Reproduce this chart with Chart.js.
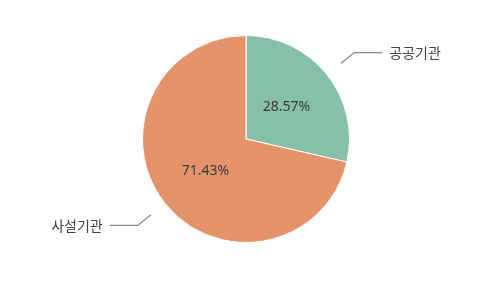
<!DOCTYPE html>
<html><head><meta charset="utf-8">
<script src="https://cdn.jsdelivr.net/npm/chart.js@4/dist/chart.umd.min.js"></script>
<style>html,body{margin:0;padding:0;background:#fff}#wrap{width:500px;height:291px}</style>
</head><body><div id="wrap"><canvas id="c"></canvas></div>
<script>
const categories = ['공공기관', '사설기관'];
const values = [28.57, 71.43];
const colors = ['#86c0a6', '#e5936b'];

const labelPlugin = {
  id: 'labelPlugin',
  afterDatasetsDraw(chart) {
    const ctx = chart.ctx;
    const meta = chart.getDatasetMeta(0);
    const total = values.reduce((a, b) => a + b, 0);
    meta.data.forEach((arc, i) => {
      const mid = (arc.startAngle + arc.endAngle) / 2;
      const cx = arc.x, cy = arc.y, r = arc.outerRadius;
      const cos = Math.cos(mid), sin = Math.sin(mid);
      ctx.save();
      ctx.fillStyle = '#3a3a3a';
      ctx.font = '14px "Noto Sans", "Noto Sans CJK KR", sans-serif';
      ctx.textAlign = 'center';
      ctx.textBaseline = 'middle';
      const pct = (values[i] / total * 100).toFixed(2) + '%';
      ctx.fillText(pct, cx + cos * r * 0.5, cy + sin * r * 0.5);
      const p1x = cx + cos * (r + 18), p1y = cy + sin * (r + 18);
      const p2x = cx + cos * (r + 35), p2y = cy + sin * (r + 35);
      const dir = cos >= 0 ? 1 : -1;
      const p3x = p2x + dir * 28;
      ctx.strokeStyle = '#888';
      ctx.lineWidth = 1.2;
      ctx.beginPath();
      ctx.moveTo(p1x, p1y);
      ctx.lineTo(p2x, p2y);
      ctx.lineTo(p3x, p2y);
      ctx.stroke();
      ctx.fillStyle = '#444';
      ctx.font = '14px "Noto Sans CJK KR", sans-serif';
      ctx.textAlign = dir > 0 ? 'left' : 'right';
      ctx.fillText(categories[i], p3x + dir * 7, p2y);
      ctx.restore();
    });
  }
};

new Chart(document.getElementById('c'), {
  type: 'pie',
  data: {
    labels: categories,
    datasets: [{ data: values, backgroundColor: colors, borderColor: '#fff', borderWidth: 1, hoverOffset: 0 }]
  },
  options: {
    responsive: true,
    maintainAspectRatio: false,
    animation: false,
    layout: { padding: { top: 35, bottom: 48, left: 142, right: 150 } },
    plugins: { legend: { display: false }, tooltip: { enabled: false } }
  },
  plugins: [labelPlugin]
});
</script></body></html>
